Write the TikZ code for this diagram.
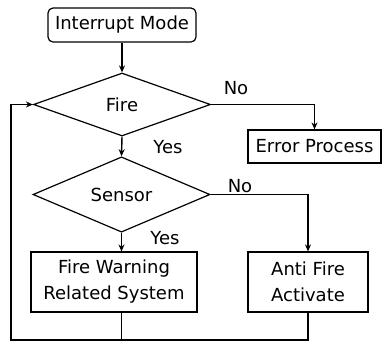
\documentclass[tikz,border=0pt]{standalone}
\usepackage{fontspec}
\setmainfont{DejaVu Sans}
\usetikzlibrary{shapes.geometric,arrows.meta}
\tikzset{
  flow/.style={line width=1.4pt, -{Stealth[length=7pt,width=6pt]}},
  line/.style={line width=1.4pt},
  procbox/.style={draw, line width=1.2pt, inner sep=0pt, align=center},
  decide/.style={draw, diamond, line width=1.2pt, inner sep=0pt, minimum width=177pt, minimum height=63pt},
  lbl/.style={inner sep=0pt}
}

\begin{document}
\begin{tikzpicture}[x=1pt, y=-1pt, font=\fontsize{18}{26}\selectfont]
\useasboundingbox (0,0) rectangle (382,341);
% boxes and decisions
\node[procbox, rounded corners=5pt, minimum width=148pt, minimum height=34pt] (intr) at (122,25) {Interrupt Mode};
\node[decide] (fire) at (122,104.5) {Fire};
\node[procbox, minimum width=133pt, minimum height=33pt] (err) at (314.5,146.5) {Error Process};
\node[decide] (sensor) at (121.5,194.5) {Sensor};
\node[procbox, minimum width=166pt, minimum height=60pt] (warn) at (114,282) {Fire Warning\\Related System};
\node[procbox, minimum width=120pt, minimum height=60pt] (anti) at (308,282) {Anti Fire\\Activate};
\coordinate (loop) at (11,340);
% connectors
\draw[flow] (intr.south) -- (fire.north);
\draw[flow] (fire.east) -| (err.north);
\draw[flow] (fire.south) -- (sensor.north);
\draw[flow] (sensor.east) -| (anti.north);
\draw[flow] (sensor.south) -- (sensor.south |- warn.north);
\draw[line] (anti.south) |- (loop);
\draw[flow] (sensor.south |- warn.south) |- (loop) |- (fire.west);
% labels
\node[lbl] (no1) at (236,88) {No};
\node[lbl] (yes1) at (168,147) {Yes};
\node[lbl] (no2) at (240,186) {No};
\node[lbl] (yes2) at (165,238) {Yes};
\end{tikzpicture}
\end{document}
